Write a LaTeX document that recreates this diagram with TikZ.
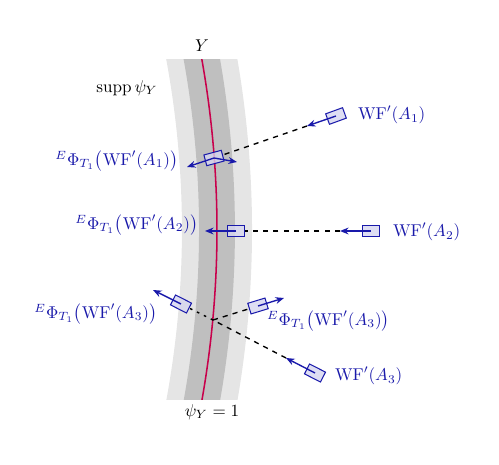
\documentclass[tikz,border=0pt]{standalone}
\usepackage{amsmath}
\usepackage{tikz}
\usetikzlibrary{arrows.meta}

\definecolor{wfblue}{RGB}{25,25,170}
\definecolor{curvered}{RGB}{200,0,75}

\begin{document}
\begin{tikzpicture}[x=0.585pt, y=-0.585pt,
    wf/.style={draw=wfblue, fill=wfblue!18, fill opacity=0.8, semithick, minimum width=10.5pt, minimum height=6.5pt, inner sep=0pt},
    wfarrow/.style={draw=wfblue, thick, -{Stealth[length=5pt, width=4pt]}},
    ray/.style={thick, dashed},
    bluetext/.style={text=wfblue, inner sep=1pt}]
    \useasboundingbox (0,0) rectangle (499,465);

    % the band around Y
    \begin{scope}
        \clip (140,60) rectangle (280,400);
        \draw [black!10, line width=41pt] (199.2,45) .. controls (222.9,168.3) and (222.9,291.7) .. (199.2,415);
        \draw [black!25, line width=21pt] (199.2,45) .. controls (222.9,168.3) and (222.9,291.7) .. (199.2,415);
        \draw [curvered, line width=0.9pt] (199.2,45) .. controls (222.9,168.3) and (222.9,291.7) .. (199.2,415);
    \end{scope}

    \coordinate (t1) at (307,126);
    \coordinate (t2) at (340,231);
    \coordinate (t3) at (286,358);
    \coordinate (c3) at (213,320);
    
    \coordinate (q1l) at (187,167);
    \coordinate (q1r) at (237,162);
    \coordinate (q2) at (205,231);
    \coordinate (q3l) at (153,290);
    \coordinate (q3r) at (284,298);

    \node [wf, rotate=20] (a1) at (336,116) {};
    \node [wf, rotate=15] (p1) at (214,158) {};
    \node [wf] (a2) at (371,231) {};
    \node [wf] (p2) at (236,231) {};
    \node [wf, rotate=-27] (a3) at (315,373) {};
    \node [wf, rotate=-27] (p3l) at (181,304) {};
    \node [wf, rotate=17] (p3r) at (258,306) {};

    \node (Y) at (202,46) {$Y$};
    \node (supp) at (127,88) {$\operatorname{supp}\psi_Y$};
    \node (one) at (212,412) {$\psi_Y = 1$};

    \node [bluetext, anchor=west] (wf1) at (356,115) {$\mathrm{WF}'(A_1)$};
    \node [bluetext, anchor=west] (wf2) at (391,232) {$\mathrm{WF}'(A_2)$};
    \node [bluetext, anchor=west] (wf3) at (333,376) {$\mathrm{WF}'(A_3)$};
    \node [bluetext, anchor=east] (phi1) at (180,161) {$^{E}\Phi_{T_1}\bigl(\mathrm{WF}'(A_1)\bigr)$};
    \node [bluetext, anchor=east] (phi2) at (200,225) {$^{E}\Phi_{T_1}\bigl(\mathrm{WF}'(A_2)\bigr)$};
    \node [bluetext, anchor=east] (phi3l) at (159,314) {$^{E}\Phi_{T_1}\bigl(\mathrm{WF}'(A_3)\bigr)$};
    \node [bluetext, anchor=west] (phi3r) at (265,321) {$^{E}\Phi_{T_1}\bigl(\mathrm{WF}'(A_3)\bigr)$};

    \draw [ray] (t1) -- (p1);
    \draw [ray] (t2) -- (p2);
    \draw [ray] (t3) -- (c3);
    \draw [ray] (c3) -- (p3r);
    \draw [thick, dash pattern=on 1.5pt off 3pt] (c3) -- (p3l);

    \draw [wfarrow] (a1.center) -- (t1);
    \draw [wfarrow] (a2.center) -- (t2);
    \draw [wfarrow] (a3.center) -- (t3);
    \draw [wfarrow] (p1.center) -- (q1l);
    \draw [wfarrow] (p1.center) -- (q1r);
    \draw [wfarrow] (p2.center) -- (q2);
    \draw [wfarrow] (p3l.center) -- (q3l);
    \draw [wfarrow] (p3r.center) -- (q3r);
\end{tikzpicture}
\end{document}
